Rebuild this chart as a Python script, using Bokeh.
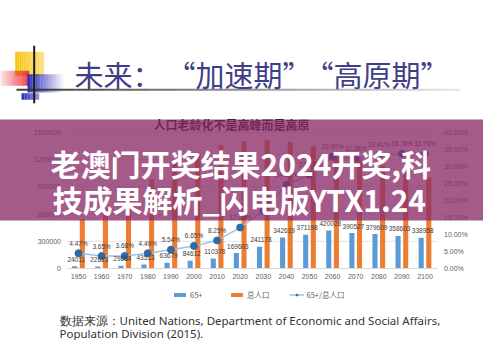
from bokeh.plotting import figure
from bokeh.models import (Range1d, LinearAxis, FixedTicker, BasicTickFormatter,
                          PrintfTickFormatter, Legend, LegendItem, ColumnDataSource)
from bokeh.core.properties import value
from bokeh.transform import dodge
from bokeh.embed import file_html
from bokeh.resources import INLINE

# ---------------- data ----------------
years = [1950, 1960, 1970, 1980, 1990, 2000, 2010, 2020,
         2030, 2040, 2050, 2060, 2070, 2080, 2090, 2100]
pop_65 = [24011, 22623, 29864, 43513, 63679, 84612, 110378, 169603,
          241178, 342619, 371198, 420028, 390527, 379609, 358603, 338958]
pop_total = [544000, 660000, 818000, 985000, 1154000, 1280000, 1359000, 1403000,
             1416000, 1395000, 1348000, 1277000, 1206000, 1136000, 1066000, 1004000]
ratio_pct = [4.47, 3.65, 3.68, 4.49, 5.54, 6.65, 8.25, 12.05,
             17.03, 24.59, 27.53, 32.90, 32.38, 33.41, 33.78, 33.75]
pop_ticks = [0, 300000, 600000, 900000, 1200000, 1500000]
pct_ticks = [0, 5, 10, 15, 20, 25, 30, 35, 40]
series_names = ["65+", "总人口", "65+/总人口"]

title_parts = ["未来：", "“加速期”", "“高原期”"]
subtitle_text = "人口老龄化不是高峰而是高原"
banner_lines = ["老澳门开奖结果2024开奖,科", "技成果解析_闪电版YTX1.24"]
source_lines = ["数据来源：United Nations, Department of Economic and Social Affairs,",
                "Population Division (2015)."]

# ---------------- layout (reference pixel space) ----------------
W, H = 483, 340
X0, Y0 = 8, 8
PL, PR = 74.5, 444.5      # plot area left / right
PB, PT = 276.0, 140.0     # baseline / top of value axis
FIRST_X, LAST_X = 86.0, 432.5

CJK = "Noto Sans CJK SC"

p = figure(width=W, height=H, x_range=Range1d(X0, X0 + W), y_range=Range1d(Y0 + H, Y0),
           output_backend="svg", toolbar_location=None,
           x_axis_location=None, y_axis_location=None,
           min_border=0, outline_line_color=None, background_fill_color="white")
p.grid.grid_line_color = None

ppy = (LAST_X - FIRST_X) / (years[-1] - years[0])
yr_start = years[0] - (FIRST_X - X0) / ppy
yr_end = years[-1] + (X0 + W - LAST_X) / ppy
pop_pp = (PB - PT) / pop_ticks[-1]
pct_pp = (PB - PT) / pct_ticks[-1]
p.extra_x_ranges = {"yr": Range1d(yr_start, yr_end)}
p.extra_y_ranges = {
    "pop": Range1d(-(Y0 + H - PB) / pop_pp, (PB - Y0) / pop_pp),
    "pct": Range1d(-(Y0 + H - PB) / pct_pp, (PB - Y0) / pct_pp),
}

def yr_at(px):
    return yr_start + (px - X0) / ppy

# ---------------- decoration (top-left logo and rule) ----------------
def grad_quads(x0, x1, y0, y1, color, a0, a1, n=14):
    xs = [x0 + (x1 - x0) * i / n for i in range(n + 1)]
    p.quad(left=xs[:-1], right=xs[1:], top=[y0] * n, bottom=[y1] * n,
           fill_color=color, line_color=None,
           fill_alpha=[a0 + (a1 - a0) * (i + 0.5) / n for i in range(n)])

grad_quads(22.7, 51.7, 59.3, 83.3, "#F7C000", 1.0, 0.45)
grad_quads(6.0, 36.7, 78.3, 93.3, "#E8202A", 0.05, 0.9)
grad_quads(35.0, 71.7, 81.7, 100.0, "#2A2AB8", 1.0, 0.0)
grad_quads(29.0, 46.7, 100.7, 107.3, "#2A2AB8", 1.0, 0.5, n=6)
nseg = 30
hx = [24 + (467 - 24) * i / nseg for i in range(nseg + 1)]
p.segment(x0=hx[:-1], x1=hx[1:], y0=[97.3] * nseg, y1=[97.3] * nseg,
          line_color="#333333", line_width=2,
          line_alpha=[0.95 - 0.85 * i / nseg for i in range(nseg)])
p.segment(x0=[41.7], x1=[41.7], y0=[53.3], y1=[110.7], line_color="#1a1a1a", line_width=2)

p.text(x=[82, 174, 312], y=[81.5, 81.5, 81.5], text=title_parts, text_font=value(CJK),
       text_font_size="29px", text_color="#3F3F88", text_baseline="alphabetic",
       text_align="left")
p.text(x=[161], y=[131.5], text=[subtitle_text], text_font=value(CJK), text_font_style="bold",
       text_font_size="12px", text_color="#111111", text_baseline="alphabetic",
       text_align="left")

# ---------------- chart ----------------
src = ColumnDataSource(dict(year=years, pop65=pop_65, total=pop_total, ratio=ratio_pct,
                            pop65_lbl=[str(v) for v in pop_65],
                            ratio_lbl=["%.2f%%" % r for r in ratio_pct]))

p.segment(x0=PL, x1=PR, y0="t", y1="t", source=ColumnDataSource(dict(t=pop_ticks[1:])),
          y_range_name="pop", line_color="#E3E3E3", line_width=1)

b65 = p.vbar(x=dodge("year", -1.65), top="pop65", width=2.2, source=src,
             x_range_name="yr", y_range_name="pop", fill_color="#5B9BD5", line_color=None)
btot = p.vbar(x=dodge("year", 1.65), top="total", width=2.2, source=src,
              x_range_name="yr", y_range_name="pop", fill_color="#ED7D31", line_color=None)
ln = p.line(x="year", y="ratio", source=src, x_range_name="yr", y_range_name="pct",
            line_color="#9DC0E4", line_width=1.5)
sc = p.scatter(x="year", y="ratio", source=src, x_range_name="yr", y_range_name="pct",
               size=7, fill_color="#2E6BA6", line_color="#2E6BA6")

p.text(x=dodge("year", -1.0), y="pop65", text="pop65_lbl", source=src, x_range_name="yr",
       y_range_name="pop", y_offset=-7, text_align="center", text_baseline="middle",
       text_font=value("Liberation Sans"), text_font_size="6.5px", text_color="#404040")
p.text(x="year", y="ratio", text="ratio_lbl", source=src, x_range_name="yr",
       y_range_name="pct", y_offset=-10, text_align="center", text_baseline="middle",
       text_font=value("Liberation Sans"), text_font_size="6.5px", text_color="#404040")

axis_style = dict(major_tick_out=0, major_tick_in=0, minor_tick_out=0, minor_tick_in=0,
                  major_tick_line_color=None, minor_tick_line_color=None,
                  major_label_text_font_size="7px", major_label_text_color="#606060",
                  major_label_text_font="Liberation Sans")
ax_l = LinearAxis(y_range_name="pop", fixed_location=PL, ticker=FixedTicker(ticks=pop_ticks),
                  formatter=BasicTickFormatter(use_scientific=False), axis_line_color=None,
                  major_label_standoff=6, **axis_style)
p.add_layout(ax_l, "left")
ax_r = LinearAxis(y_range_name="pct", fixed_location=PR, ticker=FixedTicker(ticks=pct_ticks),
                  formatter=PrintfTickFormatter(format="%.2f%%"), axis_line_color=None,
                  major_label_standoff=7, **axis_style)
p.add_layout(ax_r, "right")
ax_b = LinearAxis(x_range_name="yr", fixed_location=PB, ticker=FixedTicker(ticks=years),
                  formatter=PrintfTickFormatter(format="%d"), axis_line_color="#D9D9D9",
                  bounds=(yr_at(PL), yr_at(PR)), major_label_standoff=5, **axis_style)
p.add_layout(ax_b, "below")

legend = Legend(items=[LegendItem(label=series_names[0], renderers=[b65]),
                       LegendItem(label=series_names[1], renderers=[btot]),
                       LegendItem(label=series_names[2], renderers=[ln, sc])],
                orientation="horizontal", location=(172, 40),
                glyph_width=15, glyph_height=5, label_height=8, label_standoff=3,
                spacing=19, padding=0, margin=0, border_line_color=None,
                background_fill_alpha=0, label_text_font=CJK,
                label_text_font_size="7.5px", label_text_color="#606060")
p.add_layout(legend)

# ---------------- source note ----------------
p.text(x=[67, 67], y=[328, 341], text=source_lines, text_font=value("Noto Sans"),
       text_font_size="11.5px", text_color="#333333", text_baseline="middle",
       text_align="left")

# ---------------- overlay banner ----------------
p.quad(left=[0], right=[499], top=[127], bottom=[228], fill_color=(140, 45, 105),
       fill_alpha=0.78, line_color=None, level="overlay")
p.text(x=[58, 60], y=[170, 206], text=banner_lines, text_font=value(CJK),
       text_font_style="bold", text_font_size="30px", text_color="white",
       text_baseline="alphabetic", text_align="left", level="overlay")

open("out.html", "w").write(file_html(p, INLINE))
